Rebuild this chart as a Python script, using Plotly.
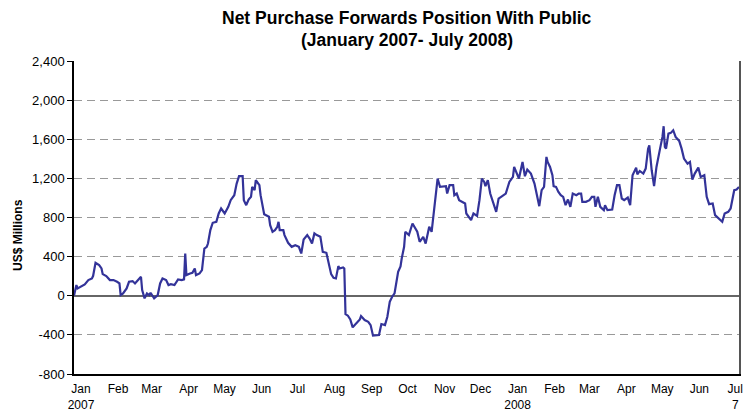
import pandas as pd
import plotly.graph_objects as go

# Net purchase forwards position with public (US$ millions)
dates = [
    "2007-01-01", "2007-01-03", "2007-01-04", "2007-01-07", "2007-01-10", "2007-01-13", "2007-01-16",
    "2007-01-17", "2007-01-19", "2007-01-22", "2007-01-24", "2007-01-25", "2007-01-28", "2007-01-31",
    "2007-02-03", "2007-02-06", "2007-02-08", "2007-02-09", "2007-02-11", "2007-02-14", "2007-02-16",
    "2007-02-19", "2007-02-21", "2007-02-23", "2007-02-26", "2007-02-27", "2007-03-01", "2007-03-03",
    "2007-03-05", "2007-03-06", "2007-03-09", "2007-03-12", "2007-03-14", "2007-03-16", "2007-03-19",
    "2007-03-21", "2007-03-23", "2007-03-26", "2007-03-29", "2007-04-01", "2007-04-03", "2007-04-04",
    "2007-04-05", "2007-04-08", "2007-04-10", "2007-04-12", "2007-04-13", "2007-04-16", "2007-04-18",
    "2007-04-20", "2007-04-22", "2007-04-23", "2007-04-25", "2007-04-27", "2007-04-30", "2007-05-02",
    "2007-05-04", "2007-05-07", "2007-05-10", "2007-05-12", "2007-05-15", "2007-05-17", "2007-05-19",
    "2007-05-22", "2007-05-23", "2007-05-25", "2007-05-27", "2007-05-29", "2007-05-30", "2007-06-01",
    "2007-06-02", "2007-06-05", "2007-06-06", "2007-06-09", "2007-06-13", "2007-06-14", "2007-06-16",
    "2007-06-18", "2007-06-20", "2007-06-21", "2007-06-22", "2007-06-25", "2007-06-26", "2007-06-29",
    "2007-07-02", "2007-07-05", "2007-07-08", "2007-07-10", "2007-07-12", "2007-07-15", "2007-07-17",
    "2007-07-19", "2007-07-21", "2007-07-23", "2007-07-26", "2007-07-28", "2007-07-31", "2007-08-04",
    "2007-08-06", "2007-08-08", "2007-08-10", "2007-08-11", "2007-08-14", "2007-08-15", "2007-08-16",
    "2007-08-18", "2007-08-20", "2007-08-22", "2007-08-25", "2007-08-28", "2007-08-29", "2007-09-01",
    "2007-09-04", "2007-09-06", "2007-09-08", "2007-09-11", "2007-09-13", "2007-09-15", "2007-09-18",
    "2007-09-20", "2007-09-22", "2007-09-24", "2007-09-26", "2007-09-29", "2007-10-01", "2007-10-02",
    "2007-10-04", "2007-10-05", "2007-10-08", "2007-10-11", "2007-10-14", "2007-10-15", "2007-10-17",
    "2007-10-20", "2007-10-22", "2007-10-25", "2007-10-27", "2007-10-29", "2007-11-01", "2007-11-03",
    "2007-11-05", "2007-11-08", "2007-11-09", "2007-11-11", "2007-11-14", "2007-11-15", "2007-11-17",
    "2007-11-19", "2007-11-24", "2007-11-25", "2007-11-29", "2007-12-01", "2007-12-04", "2007-12-06",
    "2007-12-08", "2007-12-10", "2007-12-11", "2007-12-13", "2007-12-15", "2007-12-19", "2007-12-20",
    "2007-12-22", "2007-12-26", "2007-12-28", "2007-12-31", "2008-01-03", "2008-01-04", "2008-01-06",
    "2008-01-08", "2008-01-11", "2008-01-13", "2008-01-15", "2008-01-18", "2008-01-21", "2008-01-23",
    "2008-01-25", "2008-01-27", "2008-01-29", "2008-01-31", "2008-02-01", "2008-02-03", "2008-02-05",
    "2008-02-06", "2008-02-08", "2008-02-10", "2008-02-12", "2008-02-14", "2008-02-16", "2008-02-18",
    "2008-02-20", "2008-02-22", "2008-02-25", "2008-02-27", "2008-02-29", "2008-03-01", "2008-03-04",
    "2008-03-07", "2008-03-09", "2008-03-11", "2008-03-12", "2008-03-14", "2008-03-16", "2008-03-19",
    "2008-03-20", "2008-03-22", "2008-03-26", "2008-03-28", "2008-03-30", "2008-04-01", "2008-04-03",
    "2008-04-05", "2008-04-08", "2008-04-10", "2008-04-12", "2008-04-15", "2008-04-16", "2008-04-18",
    "2008-04-21", "2008-04-23", "2008-04-25", "2008-04-26", "2008-04-28", "2008-04-30", "2008-05-02",
    "2008-05-05", "2008-05-07", "2008-05-08", "2008-05-09", "2008-05-10", "2008-05-12", "2008-05-14",
    "2008-05-16", "2008-05-18", "2008-05-21", "2008-05-23", "2008-05-25", "2008-05-28", "2008-05-30",
    "2008-06-01", "2008-06-03", "2008-06-06", "2008-06-08", "2008-06-11", "2008-06-13", "2008-06-15",
    "2008-06-18", "2008-06-20", "2008-06-23", "2008-06-26", "2008-06-28", "2008-07-01", "2008-07-03",
    "2008-07-06", "2008-07-08", "2008-07-10",
]
values = [
    0, 109, 75, 92, 116, 160, 177,
    204, 337, 313, 279, 221, 201, 160,
    160, 143, 126, 7, 24, 75, 143,
    150, 126, 153, 194, 58, -27, 24,
    7, 31, -27, 7, 126, 177, 160,
    109, 119, 109, 167, 160, 167, 432,
    211, 228, 235, 279, 211, 228, 262,
    483, 500, 534, 671, 746, 756, 841,
    892, 841, 909, 977, 1028, 1147, 1222,
    1222, 977, 926, 984, 1011, 1113, 1079,
    1181, 1130, 1028, 834, 807, 722, 654,
    671, 705, 756, 671, 671, 620, 541,
    500, 517, 500, 432, 575, 620, 585,
    534, 637, 620, 603, 449, 439, 221,
    184, 177, 303, 279, 289, 279, -187,
    -204, -242, -323, -283, -242, -208, -248,
    -266, -300, -408, -405, -402, -289, -300,
    -214, -61, -10, 24, 245, 300, 381,
    500, 654, 620, 739, 671, 654, 551,
    603, 534, 705, 654, 858, 1198, 1113,
    1113, 1120, 1045, 1130, 1130, 1028, 1045,
    977, 943, 841, 773, 841, 817, 977,
    1198, 1164, 1120, 1181, 1045, 909, 858,
    994, 1028, 1045, 1164, 1215, 1317, 1249,
    1198, 1368, 1222, 1290, 1249, 1147, 1011,
    916, 1079, 1113, 1419, 1368, 1317, 1232,
    1120, 1113, 1062, 1028, 1011, 926, 984,
    909, 1045, 1028, 1045, 1045, 960, 960,
    977, 1011, 1011, 909, 1011, 909, 875,
    926, 875, 882, 1028, 1130, 1130, 994,
    977, 1004, 926, 1232, 1310, 1242, 1276,
    1249, 1300, 1504, 1538, 1283, 1120, 1317,
    1504, 1624, 1733, 1521, 1504, 1658, 1665,
    1692, 1624, 1583, 1504, 1402, 1351, 1368,
    1188, 1249, 1310, 1215, 1232, 1011, 936,
    943, 824, 790, 756, 841, 858, 892,
    1079, 1086, 1113,
]

month_ticks = [
    "2007-01-01", "2007-02-01", "2007-03-01", "2007-04-01", "2007-05-01", "2007-06-01",
    "2007-07-01", "2007-08-01", "2007-09-01", "2007-10-01", "2007-11-01", "2007-12-01",
    "2008-01-01", "2008-02-01", "2008-03-01", "2008-04-01", "2008-05-01", "2008-06-01",
    "2008-07-01",
]
month_labels = [
    "Jan<br>2007", "Feb", "Mar", "Apr", "May", "Jun", "Jul", "Aug", "Sep", "Oct", "Nov", "Dec",
    "Jan<br>2008", "Feb", "Mar", "Apr", "May", "Jun", "Jul<br>7",
]
y_ticks = [-800, -400, 0, 400, 800, 1200, 1600, 2000, 2400]
y_labels = ["-800", "-400", "0", "400", "800", "1,200", "1,600", "2,000", "2,400"]

title_lines = ["Net Purchase Forwards Position With Public", "(January 2007- July 2008)"]
y_title = "US$ Millions"

FONT = "Liberation Sans, Arial, sans-serif"

fig = go.Figure()
fig.add_trace(go.Scatter(
    x=pd.to_datetime(dates), y=values, mode="lines",
    line=dict(color="#333399", width=2.2), hoverinfo="x+y", showlegend=False,
))

fig.update_layout(
    width=755, height=414,
    margin=dict(l=74, r=16, t=61, b=40, autoexpand=False),
    paper_bgcolor="white", plot_bgcolor="white",
    font=dict(family=FONT, color="black", size=12),
    xaxis=dict(
        type="date", range=["2007-01-01", "2008-07-10"],
        tickvals=pd.to_datetime(month_ticks), ticktext=month_labels,
        ticklabelshift=7, ticks="", showgrid=False, zeroline=False,
        showline=True, linecolor="black", linewidth=1.5, mirror=False,
        tickfont=dict(size=12, family=FONT, color="black"), tickangle=0,
        ticklabelstandoff=3, automargin=False,
    ),
    yaxis=dict(
        range=[-800, 2400], tickvals=y_ticks, ticktext=y_labels,
        ticks="outside", ticklen=5, tickcolor="black", tickwidth=1,
        showline=True, linecolor="black", linewidth=1.5,
        showgrid=True, gridcolor="#999999", griddash="8px,5px", gridwidth=1,
        zeroline=True, zerolinecolor="#666666", zerolinewidth=1.5,
        tickfont=dict(size=13, family=FONT, color="black"), automargin=False,
    ),
    yaxis2=dict(overlaying="y", side="right", showline=True, linecolor="#555", linewidth=2,
                showticklabels=False, showgrid=False, zeroline=False, range=[-800, 2400],
                automargin=False),
)

# invisible trace to activate the right-hand frame axis
fig.add_trace(go.Scatter(x=[pd.to_datetime(dates[0])], y=[values[0]], yaxis="y2",
                         mode="markers", marker=dict(opacity=0), hoverinfo="skip", showlegend=False))

fig.add_annotation(text="<b>" + title_lines[0] + "</b>", xref="paper", yref="paper",
                   x=0.5, y=1, yshift=43, xanchor="center", yanchor="middle", showarrow=False,
                   font=dict(size=17.5, family=FONT, color="black"))
fig.add_annotation(text="<b>" + title_lines[1] + "</b>", xref="paper", yref="paper",
                   x=0.5, y=1, yshift=21, xanchor="center", yanchor="middle", showarrow=False,
                   font=dict(size=17.5, family=FONT, color="black"))
fig.add_annotation(text="<b>" + y_title + "</b>", xref="paper", yref="paper",
                   x=0, xshift=-56, y=0.444, xanchor="center", yanchor="middle",
                   textangle=-90, showarrow=False,
                   font=dict(size=12, family=FONT, color="black"))

# remove the browser's default 8px body margin so the figure fills the window exactly
fig.write_html(
    "out.html",
    config={"displayModeBar": False},
    post_script="document.body.style.margin='0';document.body.style.overflow='hidden';",
)
